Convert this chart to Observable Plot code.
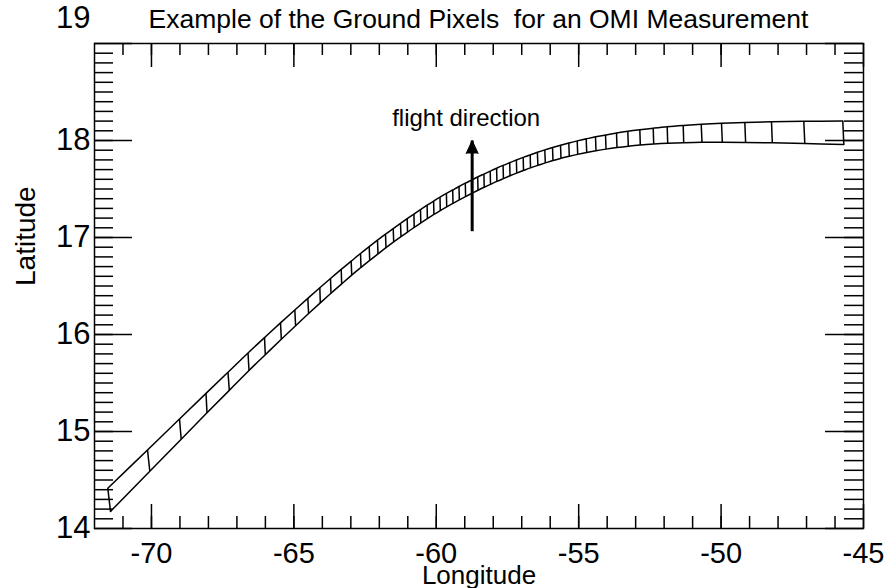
<!DOCTYPE html>
<html><head><meta charset="utf-8">
<script src="https://cdn.jsdelivr.net/npm/d3@7"></script>
<script src="https://cdn.jsdelivr.net/npm/@observablehq/plot@0.6"></script>
<style>
body{margin:0;background:#fff;}
#wrap{width:886px;height:588px;position:relative;}
#title{position:absolute;left:94px;top:0;width:769px;height:38px;text-align:center;line-height:38px;font-size:26.5px;font-family:"Liberation Sans",Arial,sans-serif;color:#000;white-space:pre;z-index:2;}
#chart{position:absolute;left:0;top:0;}
</style></head><body>
<div id="wrap"><div id="chart"></div><div id="title">Example of the Ground Pixels  for an OMI Measurement</div></div>
<script>
// Ground pixel corner coordinates (61 cross-track boundaries): leading (top) and trailing (bottom) edge
const topLon = [-71.533,-70.139,-69.016,-68.085,-67.313,-66.610,-66.031,-65.469,-64.967,-64.511,-64.089,-63.714,-63.338,-62.987,-62.660,-62.355,-62.064,-61.783,-61.512,-61.256,-61.021,-60.785,-60.554,-60.322,-60.094,-59.869,-59.644,-59.423,-59.202,-58.981,-58.763,-58.546,-58.328,-58.107,-57.882,-57.654,-57.422,-57.187,-56.948,-56.702,-56.450,-56.190,-55.919,-55.638,-55.347,-55.052,-54.736,-54.409,-54.058,-53.672,-53.275,-52.854,-52.383,-51.892,-51.330,-50.698,-49.985,-49.167,-48.230,-47.096,-45.727];
const topLat = [14.415,14.810,15.129,15.393,15.611,15.810,15.968,16.120,16.253,16.373,16.482,16.577,16.671,16.756,16.835,16.906,16.972,17.034,17.091,17.145,17.194,17.242,17.288,17.333,17.376,17.416,17.454,17.490,17.526,17.560,17.592,17.624,17.654,17.684,17.714,17.743,17.771,17.799,17.826,17.852,17.878,17.903,17.927,17.951,17.974,17.996,18.017,18.038,18.057,18.077,18.095,18.111,18.127,18.142,18.155,18.167,18.177,18.186,18.193,18.198,18.201];
const botLon = [-71.438,-70.058,-68.956,-68.050,-67.267,-66.575,-66.003,-65.441,-64.939,-64.483,-64.072,-63.696,-63.321,-62.969,-62.643,-62.337,-62.046,-61.765,-61.495,-61.238,-61.010,-60.775,-60.543,-60.312,-60.083,-59.859,-59.634,-59.413,-59.191,-58.970,-58.753,-58.535,-58.317,-58.096,-57.871,-57.643,-57.411,-57.176,-56.937,-56.692,-56.432,-56.172,-55.902,-55.621,-55.329,-55.034,-54.718,-54.392,-54.040,-53.655,-53.258,-52.836,-52.366,-51.874,-51.313,-50.670,-49.957,-49.139,-48.202,-47.061,-45.691];
const botLat = [14.176,14.591,14.921,15.193,15.424,15.629,15.792,15.951,16.091,16.216,16.326,16.425,16.522,16.612,16.691,16.764,16.831,16.895,16.954,17.008,17.056,17.104,17.150,17.195,17.238,17.278,17.316,17.352,17.388,17.422,17.455,17.487,17.518,17.548,17.578,17.607,17.636,17.664,17.691,17.718,17.744,17.769,17.794,17.816,17.837,17.857,17.876,17.894,17.911,17.927,17.941,17.953,17.963,17.971,17.977,17.981,17.981,17.980,17.976,17.969,17.958];

// Flight direction arrow
const arrowLon = [-58.74];
const arrowLat1 = [17.065];
const arrowLat2 = [18.00];
const arrowLabel = ["flight direction"];

// Axes
const lonDomain = [-72, -45];
const latDomain = [14, 19];
const lonMajor = [-70, -65, -60, -55, -50, -45];
const latMajor = [14, 15, 16, 17, 18, 19];
const latLabels = [14, 15, 16, 17, 18];
const latTopLabel = [19];
const lonMinor = d3.range(-71, -45, 1);
const latMinor = d3.range(141, 190, 1).map(d => d / 10);
const xTitle = ["Longitude"];
const yTitle = ["Latitude"];

const W = 886, H = 588, mL = 94, mR = 23, mT = 43, mB = 60;
const fw = W - mL - mR, fh = H - mT - mB;
const sans = '"Liberation Sans",Arial,"Helvetica",sans-serif';
const sw = 1.5;

const pixels = topLon.map((d, i) => ({tLon: topLon[i], tLat: topLat[i], bLon: botLon[i], bLat: botLat[i]}));
const flight = arrowLon.map((d, i) => ({lon: d, lat1: arrowLat1[i], lat2: arrowLat2[i], label: arrowLabel[i]}));

const chart = Plot.plot({
  width: W, height: H,
  marginLeft: mL, marginRight: mR, marginTop: mT, marginBottom: mB,
  x: {domain: lonDomain},
  y: {domain: latDomain},
  style: {fontFamily: sans, background: "white", color: "black"},
  marks: [
    // inner ticks on all four sides
    Plot.tickX(lonMinor, {x: d => d, insetTop: fh - 12, stroke: "black", strokeWidth: sw}),
    Plot.tickX(lonMajor, {x: d => d, insetTop: fh - 24, stroke: "black", strokeWidth: sw}),
    Plot.tickX(lonMinor, {x: d => d, insetBottom: fh - 12, stroke: "black", strokeWidth: sw}),
    Plot.tickX(lonMajor, {x: d => d, insetBottom: fh - 24, stroke: "black", strokeWidth: sw}),
    Plot.tickY(latMinor, {y: d => d, insetRight: fw - 19, stroke: "black", strokeWidth: sw}),
    Plot.tickY(latMajor, {y: d => d, insetRight: fw - 38, stroke: "black", strokeWidth: sw}),
    Plot.tickY(latMinor, {y: d => d, insetLeft: fw - 19, stroke: "black", strokeWidth: sw}),
    Plot.tickY(latMajor, {y: d => d, insetLeft: fw - 38, stroke: "black", strokeWidth: sw}),
    // tick labels
    Plot.axisX({ticks: lonMajor, tickSize: 0, tickPadding: 14, tickFormat: d => String(d), fontSize: 29, label: null}),
    Plot.axisY({ticks: latLabels, tickSize: 0, tickPadding: 4, tickFormat: d => String(d), fontSize: 31, label: null}),
    Plot.axisY({ticks: latTopLabel, tickSize: 0, tickPadding: 4, tickFormat: d => String(d), fontSize: 31, label: null, dy: -25}),
    // axis titles
    Plot.text(xTitle, {text: d => d, frameAnchor: "bottom", dy: 55, fontSize: 26, fill: "black"}),
    Plot.text(yTitle, {text: d => d, frameAnchor: "left", dx: -68, rotate: -90, fontSize: 28, fill: "black"}),
    // swath edges
    Plot.line(pixels, {x: "tLon", y: "tLat", stroke: "black", strokeWidth: sw, curve: "catmull-rom"}),
    Plot.line(pixels, {x: "bLon", y: "bLat", stroke: "black", strokeWidth: sw, curve: "catmull-rom"}),
    // pixel boundaries
    Plot.link(pixels, {x1: "tLon", y1: "tLat", x2: "bLon", y2: "bLat", stroke: "black", strokeWidth: sw}),
    // flight direction arrow
    Plot.link(flight, {x1: "lon", y1: "lat1", x2: "lon", y2: "lat2", stroke: "black", strokeWidth: 3}),
    Plot.vector(flight, {x: "lon", y: "lat2", length: 13, r: 6, shape: "spike", anchor: "end", rotate: 0, fill: "black", stroke: "black", strokeWidth: 1}),
    Plot.text(flight, {x: "lon", y: "lat2", text: "label", dy: -22, dx: -6, fontSize: 24, fill: "black"}),
    Plot.frame({stroke: "black", strokeWidth: sw})
  ]
});
document.getElementById("chart").appendChild(chart);
</script>
</body></html>
